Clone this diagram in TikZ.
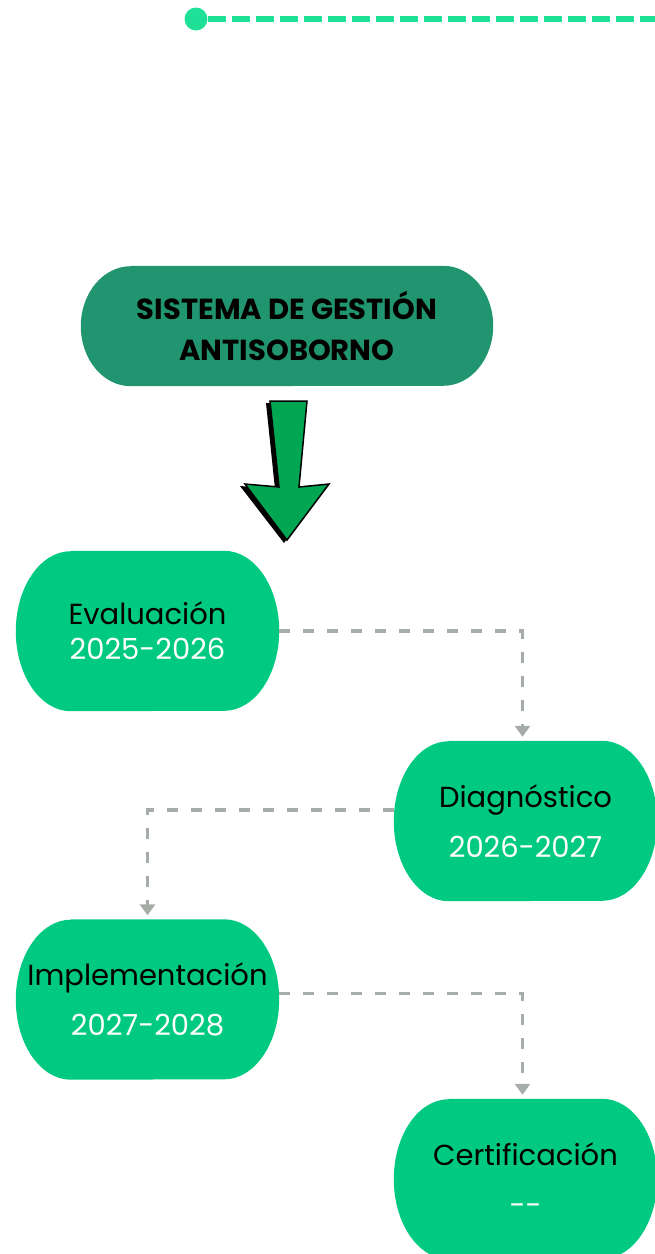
\documentclass[tikz,border=0pt]{standalone}
\usepackage{fontspec}
\setmainfont{Poppins}
\usetikzlibrary{arrows.meta,backgrounds}
\definecolor{titlegreen}{RGB}{33,149,111}
\definecolor{stagegreen}{RGB}{0,201,130}
\definecolor{arrowgreen}{RGB}{0,166,81}
\definecolor{linegreen}{RGB}{30,224,150}
\definecolor{flowgray}{RGB}{166,173,169}
\tikzset{
  stage/.style={minimum width=263pt,minimum height=160pt,align=center,
    font=\fontsize{29}{50}\selectfont},
  flow/.style={draw=flowgray,line width=3.5pt,dash pattern=on 11pt off 13pt,
    -{Triangle[width=15pt,length=11pt]},shorten >=4pt},
}
% fill behind a node, with elliptic ends
\newcommand{\stagefill}[4]{%
  \fill[#4] ([xshift=#2]#1.north west) -- ([xshift=-#2]#1.north east)
    arc[start angle=90,end angle=-90,x radius=#2,y radius=#3]
    -- ([xshift=#2]#1.south west)
    arc[start angle=270,end angle=90,x radius=#2,y radius=#3] -- cycle;}
\begin{document}
\begin{tikzpicture}[x=1pt,y=-1pt]
        \useasboundingbox (0,0) rectangle (654,1254);
        % top line
        \node [circle,fill=linegreen,minimum size=23pt,inner sep=0pt] (dot) at (196,19) {};
        \coordinate (lineend) at (660,19);
        \draw [linegreen,line width=6pt,dash pattern=on 18pt off 6pt] (dot.east) -- (lineend);
        % title
        \node [minimum width=412pt,minimum height=120pt,align=center,
               font=\fontsize{29}{41}\selectfont\bfseries] (title) at (287,326)
              {SISTEMA DE GESTIÓN\\ANTISOBORNO};
        % big arrow
        \fill [black] (266,403) -- (303,403) -- (295,489) -- (326,486) -- (284,543) -- (240,486) -- (275,489) -- cycle;
        \draw [fill=arrowgreen,line width=1.5pt,line join=miter] (270,401) -- (307,401) -- (299,487) -- (329,484)
              -- (287,540) -- (245,484) -- (279,487) -- cycle;
        % stages
        \node [stage,font=\fontsize{29}{35}\selectfont] (eval) at (147.5,631) {Evaluación\\{\color{white}2025-2026}};
        \node [stage] (diag) at (525.5,821) {Diagnóstico\\{\color{white}2026-2027}};
        \node [stage] (impl) at (147.5,999.5) {Implementación\\{\color{white}2027-2028}};
        \node [stage] (cert) at (525.5,1179) {Certificación\\{\color{white}{-}{-}}};
        \begin{scope}[on background layer]
            \stagefill{title}{50pt}{60pt}{titlegreen}
            \foreach \n in {eval,diag,impl,cert}
                \stagefill{\n}{55pt}{80pt}{stagegreen};
        \end{scope}
        % connectors
        \draw [flow] (eval.east) -| ([xshift=-3pt]diag.north);
        \draw [flow] ([yshift=11pt]diag.west) -| (impl.north);
        \draw [flow] ([yshift=6pt]impl.east) -| ([xshift=-3pt]cert.north);
\end{tikzpicture}
\end{document}
